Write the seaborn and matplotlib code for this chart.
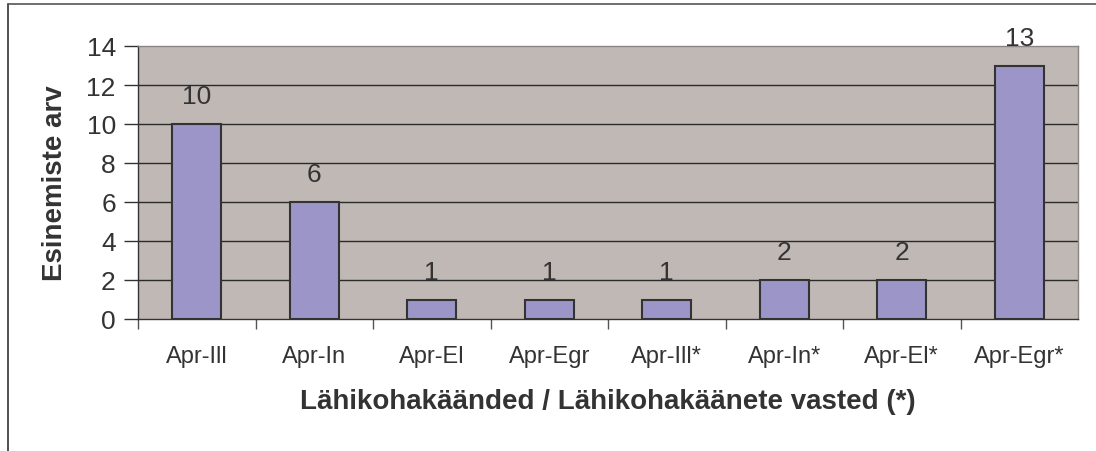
import matplotlib
matplotlib.use("Agg")
import matplotlib.pyplot as plt
import numpy as np
import pandas as pd
import seaborn as sns
from matplotlib.lines import Line2D

categories = ["Apr-Ill", "Apr-In", "Apr-El", "Apr-Egr", "Apr-Ill*", "Apr-In*", "Apr-El*", "Apr-Egr*"]
counts = [10, 6, 1, 1, 1, 2, 2, 13]
y_ticks = [0, 2, 4, 6, 8, 10, 12, 14]

x_title = "Lähikohakäänded / Lähikohakäänete vasted (*)"
y_title = "Esinemiste arv"

sns.set_style("white")
plt.rcParams["font.family"] = ["Liberation Sans", "DejaVu Sans"]

TEXT = "#333333"
df = pd.DataFrame({"cat": categories, "n": counts})

fig = plt.figure(figsize=(10.96, 4.52), dpi=100)
ax = fig.add_axes([138 / 1096, 1 - 320 / 452, (1078 - 138) / 1096, (320 - 47) / 452])
ax.set_facecolor("#C0B8B5")

# grid lines behind bars
for v in y_ticks[1:-1]:
    ax.axhline(v, color="#2a2a2a", lw=1.0, zorder=0)

sns.barplot(data=df, x="cat", y="n", color="#9C96C8", edgecolor="#333333",
            linewidth=1.5, width=0.42, saturation=1, ax=ax, zorder=2)

for i, v in enumerate(counts):
    ax.text(i, v + 0.8, str(v), ha="center", va="bottom", fontsize=19, color=TEXT)

ax.set_xlim(-0.5, len(categories) - 0.5)
ax.set_ylim(0, 14)
ax.set_yticks(y_ticks)
ax.set_yticklabels([str(t) for t in y_ticks], fontsize=19, color=TEXT)
ax.tick_params(axis="y", direction="out", length=10, width=1, color="#333333", pad=6, left=True)

# category labels at bar centres, tick marks at category boundaries
ax.set_xticks(np.arange(len(categories)) - 0.5)
ax.set_xticklabels([])
ax.set_xticks(np.arange(len(categories)), minor=True)
ax.set_xticklabels(categories, minor=True, fontsize=17, color=TEXT)
ax.tick_params(axis="x", which="major", direction="out", length=7, width=1, color="#555555", bottom=True)
ax.tick_params(axis="x", which="minor", length=0, pad=19)

ax.set_xlabel(x_title, fontsize=20, fontweight="bold", color=TEXT, labelpad=15)
ax.set_ylabel(y_title, fontsize=20, fontweight="bold", color=TEXT, labelpad=13)

for side in ["top", "right"]:
    ax.spines[side].set_color("#8a8482")
    ax.spines[side].set_linewidth(1)
for side in ["left", "bottom"]:
    ax.spines[side].set_color("#333333")
    ax.spines[side].set_linewidth(1)

# outer chart frame (left and top edges visible)
fig.add_artist(Line2D([8 / 1096, 8 / 1096], [0, 1 - 5 / 452], transform=fig.transFigure, color="#333333", lw=1.2))
fig.add_artist(Line2D([8 / 1096, 1], [1 - 5 / 452, 1 - 5 / 452], transform=fig.transFigure, color="#555555", lw=1.2))

fig.savefig("out.png", dpi=100)
